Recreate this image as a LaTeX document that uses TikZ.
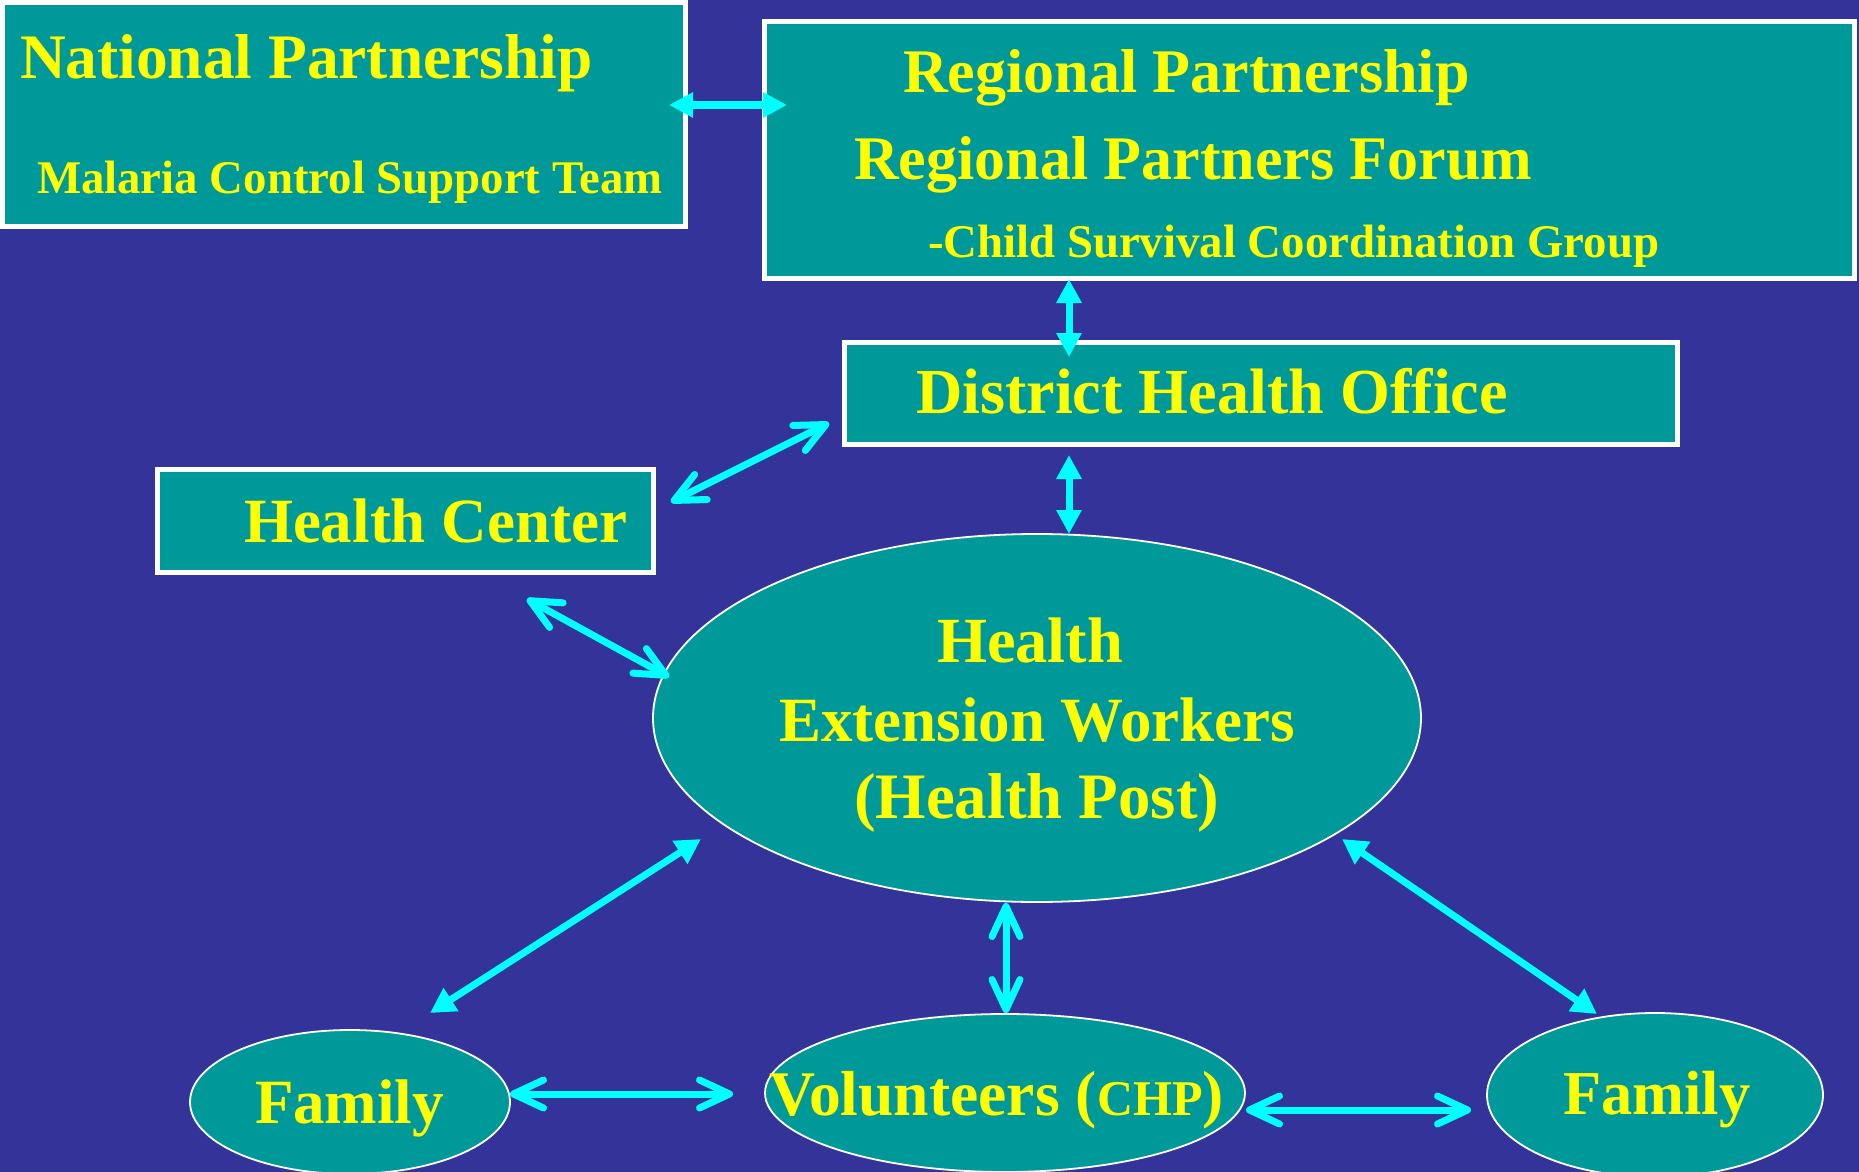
\documentclass[tikz,border=0pt]{standalone}
\usepackage{fontspec}
\setmainfont{Liberation Serif}
\usetikzlibrary{arrows.meta,shapes.geometric}
\definecolor{bgblue}{HTML}{333399}
\definecolor{tealbox}{HTML}{009999}
\definecolor{txtyel}{HTML}{FFFF00}
\definecolor{arrcyan}{HTML}{00FFFF}
\newcommand\fsz[1]{\fontsize{#1pt}{#1pt}\selectfont\bfseries}
\tikzset{
  box/.style={draw=white,line width=2.5pt,fill=tealbox,rectangle,inner sep=0pt,outer sep=0pt},
  oval/.style={draw=white,line width=0.9pt,fill=tealbox,ellipse,inner sep=0pt,outer sep=0pt},
  lbl/.style={anchor=base west,inner sep=0pt,outer sep=0pt,text=txtyel},
  tri/.style={draw=arrcyan,line width=3.5pt,{Triangle[length=12pt,width=12pt]}-{Triangle[length=12pt,width=12pt]}},
  barb/.style={draw=arrcyan,line width=3.5pt,line cap=round,{Straight Barb[length=15pt,width=14pt,round]}-{Straight Barb[length=15pt,width=14pt,round]}}
}
\begin{document}
\begin{tikzpicture}[x=0.5pt,y=-0.5pt]
\fill[bgblue] (0,0) rectangle (1859,1172);
\useasboundingbox (0,0) rectangle (1859,1172);
% boxes
\node[box,minimum width=341.5pt,minimum height=111.5pt] (nat) at (344,114.5) {};
\node[box,minimum width=545pt,minimum height=128.5pt] (reg) at (1309.5,150) {};
\node[box,minimum width=416.5pt,minimum height=51pt] (dho) at (1261,393.5) {};
\node[box,minimum width=248pt,minimum height=51.5pt] (hc) at (405.5,521) {};
% ellipses
\node[oval,minimum width=384pt,minimum height=184pt] (hew) at (1037,718) {};
\node[oval,minimum width=160pt,minimum height=72pt] (famL) at (350,1102) {};
\node[oval,minimum width=240pt,minimum height=79pt] (vol) at (1005,1093) {};
\node[oval,minimum width=168pt,minimum height=82pt] (famR) at (1655,1095) {};
% texts
\node[lbl] (t1) at (20,79) {\fsz{31.7}National Partnership};
\node[lbl] (t2) at (37,193) {\fsz{23.4}Malaria Control Support Team};
\node[lbl] (t3) at (903,93) {\fsz{31}Regional Partnership};
\node[lbl] (t4) at (854,180) {\fsz{31}Regional Partners Forum};
\node[lbl] (t5) at (928,257) {\fsz{23.4}-Child Survival Coordination Group};
\node[lbl] (t6) at (916,413) {\fsz{32.1}District Health Office};
\node[lbl] (t7) at (244,542) {\fsz{31.5}Health Center};
\node[lbl] (t8) at (937,662) {\fsz{32.2}Health};
\node[lbl] (t9) at (779,741) {\fsz{31.5}Extension Workers};
\node[lbl] (t10) at (854,818) {\fsz{32.4}(Health Post)};
\node[lbl] (t11) at (255,1123) {\fsz{31.5}Family};
\node[lbl] (t12) at (769,1115) {\fsz{31.8}Volunteers ({\fontsize{25pt}{25pt}\selectfont CHP})};
\node[lbl] (t13) at (1563,1114) {\fsz{31.2}Family};
% connector end points
\coordinate (a1s) at (669,105);  \coordinate (a1e) at (787,105);
\coordinate (a2s) at (1069,279); \coordinate (a2e) at (1069,357);
\coordinate (a3s) at (1069,455); \coordinate (a3e) at (1069,534);
\coordinate (a4s) at (701,839);  \coordinate (a4e) at (430,1013);
\coordinate (a5s) at (1342,839); \coordinate (a5e) at (1597,1014);
\coordinate (b1s) at (671,502);  \coordinate (b1e) at (829,423);
\coordinate (b2s) at (527,599);  \coordinate (b2e) at (669,677);
\coordinate (b3s) at (1006,903); \coordinate (b3e) at (1006,1013);
\coordinate (b4s) at (510,1094); \coordinate (b4e) at (733,1094);
\coordinate (b5s) at (1246,1110);\coordinate (b5e) at (1471,1110);
% connectors
\draw[tri,line width=4pt] (a1s) -- (a1e);
\draw[tri] (a2s) -- (a2e);
\draw[tri] (a3s) -- (a3e);
\draw[tri,{Triangle[length=12.5pt,width=13pt]}-{Triangle[length=12.5pt,width=13pt]}] (a4s) -- (a4e);
\draw[tri,{Triangle[length=12.5pt,width=13pt]}-{Triangle[length=12.5pt,width=13pt]}] (a5s) -- (a5e);
\draw[barb] (b1s) -- (b1e);
\draw[barb] (b2s) -- (b2e);
\draw[barb] (b3s) -- (b3e);
\draw[barb] (b4s) -- (b4e);
\draw[barb] (b5s) -- (b5e);
\end{tikzpicture}
\end{document}
